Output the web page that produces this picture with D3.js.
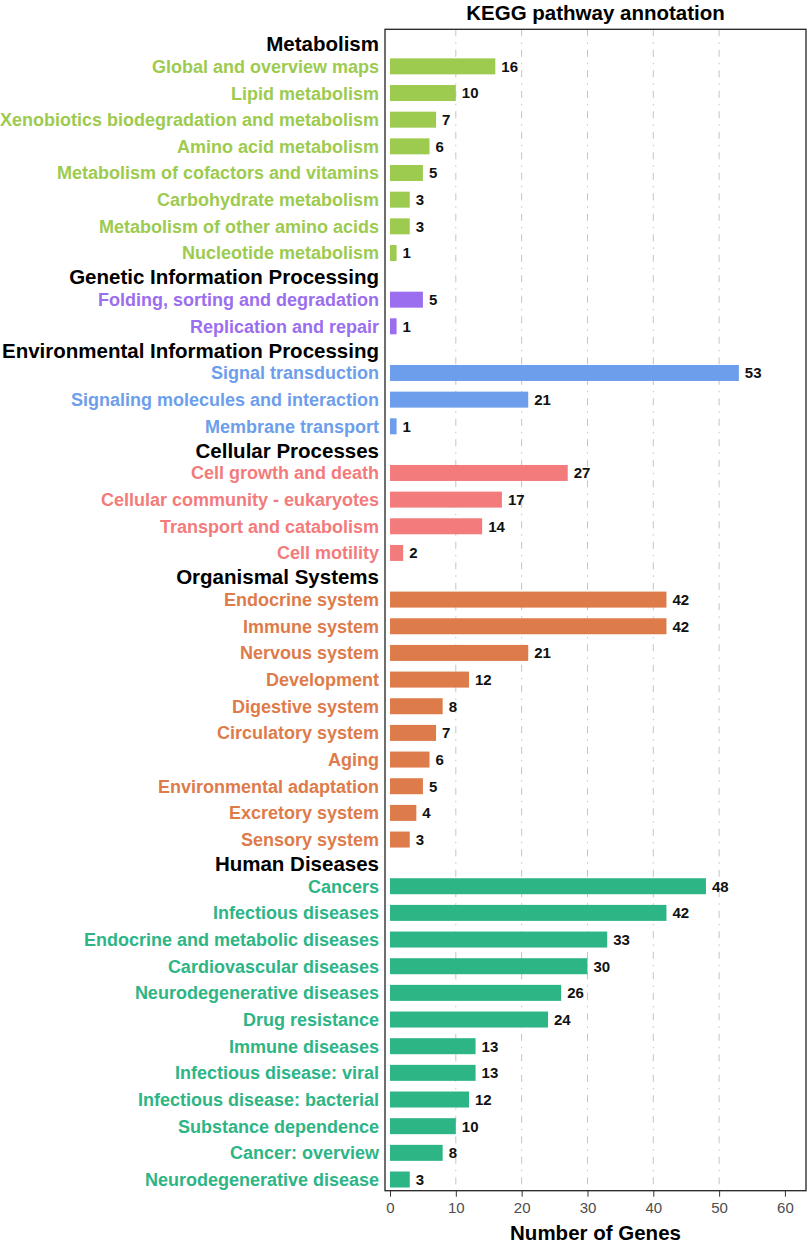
<!DOCTYPE html>
<html>
<head>
<meta charset="utf-8">
<script src="https://cdn.jsdelivr.net/npm/d3@7"></script>
<style>
  body { margin: 0; background: #fff; }
  svg text { font-family: "Liberation Sans", Arial, sans-serif; }
  .tick text { font-size: 15px; fill: #4d4d4d; }
  .tick line { stroke: #333; }
</style>
</head>
<body>
<div id="chart"></div>
<script>
// Data
const groups = ["Metabolism", "Genetic Information Processing", "Environmental Information Processing",
  "Cellular Processes", "Organismal Systems", "Human Diseases"];

const metabolism = ["Global and overview maps", "Lipid metabolism", "Xenobiotics biodegradation and metabolism",
  "Amino acid metabolism", "Metabolism of cofactors and vitamins", "Carbohydrate metabolism",
  "Metabolism of other amino acids", "Nucleotide metabolism"];
const metabolismGenes = [16, 10, 7, 6, 5, 3, 3, 1];

const genetic = ["Folding, sorting and degradation", "Replication and repair"];
const geneticGenes = [5, 1];

const environmental = ["Signal transduction", "Signaling molecules and interaction", "Membrane transport"];
const environmentalGenes = [53, 21, 1];

const cellular = ["Cell growth and death", "Cellular community - eukaryotes", "Transport and catabolism", "Cell motility"];
const cellularGenes = [27, 17, 14, 2];

const organismal = ["Endocrine system", "Immune system", "Nervous system", "Development", "Digestive system",
  "Circulatory system", "Aging", "Environmental adaptation", "Excretory system", "Sensory system"];
const organismalGenes = [42, 42, 21, 12, 8, 7, 6, 5, 4, 3];

const human = ["Cancers", "Infectious diseases", "Endocrine and metabolic diseases", "Cardiovascular diseases",
  "Neurodegenerative diseases", "Drug resistance", "Immune diseases", "Infectious disease: viral",
  "Infectious disease: bacterial", "Substance dependence", "Cancer: overview", "Neurodegenerative disease"];
const humanGenes = [48, 42, 33, 30, 26, 24, 13, 13, 12, 10, 8, 3];

const xTicks = [0, 10, 20, 30, 40, 50, 60];
const gridValues = [10, 20, 30, 40, 50];

const groupCats = [metabolism, genetic, environmental, cellular, organismal, human];
const groupVals = [metabolismGenes, geneticGenes, environmentalGenes, cellularGenes, organismalGenes, humanGenes];

// rows: header rows take less room than pathway rows
const headers = [];
const rows = [];
let pos = 0;
groups.forEach(function(g, gi) {
  if (gi > 0) pos += 0.9;
  headers.push({ name: g, pos: pos });
  pos += 0.85;
  groupCats[gi].forEach(function(c, i) {
    if (i > 0) pos += 1;
    rows.push({ name: c, value: groupVals[gi][i], group: g, pos: pos });
  });
});

const W = 809, H = 1243;
const svg = d3.select("#chart").append("svg")
  .attr("width", W).attr("height", H);

const x = d3.scaleLinear().domain([-0.76, 63.2]).range([385, 806]);
const y = d3.scaleLinear().domain([-0.54, pos + 0.42]).range([29.3, 1190.7]);
const color = d3.scaleOrdinal()
  .domain(groups)
  .range(["#9dcb4f", "#9b6eef", "#6d9eeb", "#f37b7b", "#de7b4a", "#2db585"]);

const barH = y(0.3) - y(-0.3);

// grid lines
svg.append("g").selectAll("line")
  .data(gridValues)
  .enter().append("line")
    .attr("x1", d => x(d)).attr("x2", d => x(d))
    .attr("y1", y.range()[0]).attr("y2", y.range()[1])
    .attr("stroke", "#c4c4c4")
    .attr("stroke-width", 1)
    .attr("stroke-dasharray", "7,6,1.5,6");

// bars
svg.append("g").selectAll("rect")
  .data(rows)
  .enter().append("rect")
    .attr("x", x(0))
    .attr("y", d => y(d.pos) - barH / 2)
    .attr("width", d => x(d.value) - x(0))
    .attr("height", barH)
    .attr("fill", d => color(d.group));

// value labels
svg.append("g").selectAll("text")
  .data(rows)
  .enter().append("text")
    .attr("x", d => x(d.value) + 6)
    .attr("y", d => y(d.pos))
    .attr("dy", "0.36em")
    .attr("font-size", 15)
    .attr("font-weight", "bold")
    .attr("fill", "#111")
    .text(d => d.value);

// panel border
svg.append("rect")
  .attr("x", x.range()[0]).attr("y", y.range()[0])
  .attr("width", x.range()[1] - x.range()[0])
  .attr("height", y.range()[1] - y.range()[0])
  .attr("fill", "none")
  .attr("stroke", "#222")
  .attr("stroke-width", 1.3);

// category labels
svg.append("g").selectAll("text")
  .data(rows)
  .enter().append("text")
    .attr("x", 379)
    .attr("y", d => y(d.pos))
    .attr("dy", "0.36em")
    .attr("text-anchor", "end")
    .attr("font-size", 18)
    .attr("font-weight", "bold")
    .attr("fill", d => color(d.group))
    .text(d => d.name);

// group headers
svg.append("g").selectAll("text")
  .data(headers)
  .enter().append("text")
    .attr("x", 379)
    .attr("y", d => y(d.pos))
    .attr("dy", "0.36em")
    .attr("text-anchor", "end")
    .attr("font-size", 20.5)
    .attr("font-weight", "bold")
    .attr("fill", "#000")
    .text(d => d.name);

// x axis
svg.append("g")
  .attr("transform", "translate(0," + y.range()[1] + ")")
  .call(d3.axisBottom(x).tickValues(xTicks).tickSize(6).tickPadding(6))
  .call(g => g.select(".domain").remove());

svg.append("text")
  .attr("x", (x.range()[0] + x.range()[1]) / 2)
  .attr("y", 1240)
  .attr("text-anchor", "middle")
  .attr("font-size", 20.5)
  .attr("font-weight", "bold")
  .text("Number of Genes");

svg.append("text")
  .attr("x", (x.range()[0] + x.range()[1]) / 2)
  .attr("y", 20)
  .attr("text-anchor", "middle")
  .attr("font-size", 20.5)
  .attr("font-weight", "bold")
  .text("KEGG pathway annotation");
</script>
</body>
</html>
